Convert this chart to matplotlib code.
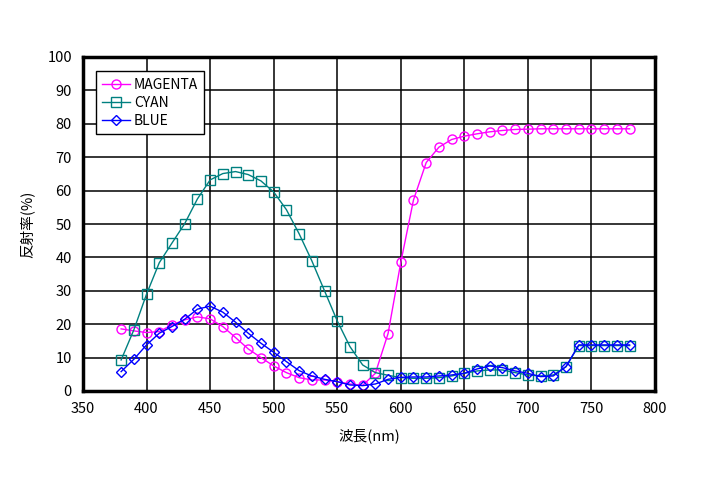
import numpy as np
import matplotlib
matplotlib.use("Agg")
import matplotlib.pyplot as plt

plt.rcParams['font.family'] = ['Noto Sans CJK JP', 'DejaVu Sans']

wavelength = list(range(380, 790, 10))

magenta = [18.6, 18.0, 17.5, 17.8, 19.8, 21.3, 22.2, 21.6, 19.3, 16.0,
           12.6, 10.0, 7.5, 5.5, 4.0, 3.3, 3.3, 2.8, 2.1, 1.7,
           5.3, 17.2, 38.5, 57.2, 68.4, 73.0, 75.3, 76.3, 77.0, 77.6,
           78.0, 78.3, 78.4, 78.5, 78.5, 78.5, 78.5, 78.5, 78.5, 78.5, 78.5]

cyan = [9.3, 18.3, 29.0, 38.4, 44.3, 50.1, 57.5, 63.2, 65.1, 65.7,
        64.8, 62.9, 59.6, 54.3, 47.1, 39.0, 30.0, 21.0, 13.3, 7.8,
        5.5, 4.7, 4.0, 3.8, 3.8, 4.0, 4.5, 5.3, 6.0, 6.3,
        6.3, 5.5, 4.8, 4.5, 4.8, 7.3, 13.6, 13.6, 13.6, 13.6, 13.6]

blue = [5.8, 9.5, 13.8, 17.3, 19.3, 21.5, 24.5, 25.4, 23.6, 20.6,
        17.3, 14.3, 11.6, 8.8, 6.1, 4.5, 3.5, 2.8, 1.8, 1.6,
        2.1, 3.5, 4.1, 4.2, 4.2, 4.5, 4.8, 5.3, 6.6, 7.5,
        7.0, 6.0, 5.3, 4.3, 4.5, 7.3, 13.8, 13.8, 13.8, 13.8, 13.8]

fig = plt.figure(figsize=(7.21, 4.8), dpi=100)
ax = fig.add_axes([83 / 721, 89 / 480, 572 / 721, 334 / 480])

ax.plot(wavelength, magenta, color='#FF00FF', lw=1, marker='o', ms=6.5,
        mfc='none', mec='#FF00FF', mew=1, label='MAGENTA')
ax.plot(wavelength, cyan, color='#008080', lw=1, marker='s', ms=6.5,
        mfc='none', mec='#008080', mew=1, label='CYAN')
ax.plot(wavelength, blue, color='#0000FF', lw=1, marker='D', ms=5,
        mfc='none', mec='#0000FF', mew=1, label='BLUE')

ax.set_xlim(350, 800)
ax.set_ylim(0, 100)
ax.set_xticks(range(350, 801, 50))
ax.set_yticks(range(0, 101, 10))
ax.grid(True, color='black', lw=1.1)
ax.set_axisbelow(True)
for s in ax.spines.values():
    s.set_linewidth(2.5)
ax.tick_params(labelsize=10.5, length=0, pad=8)

ax.set_xlabel('波長(nm)', fontsize=10.5, labelpad=9)
ax.set_ylabel('反射率(%)', fontsize=10.5, labelpad=9)

leg = ax.legend(loc='upper left', bbox_to_anchor=(0.022, 0.957), fontsize=10,
                frameon=True, fancybox=False, edgecolor='black',
                handlelength=2.0, borderpad=0.45, labelspacing=0.3,
                handletextpad=0.3, borderaxespad=0)
leg.get_frame().set_linewidth(1)
leg.get_frame().set_alpha(1)

fig.savefig('out.png', dpi=100)
